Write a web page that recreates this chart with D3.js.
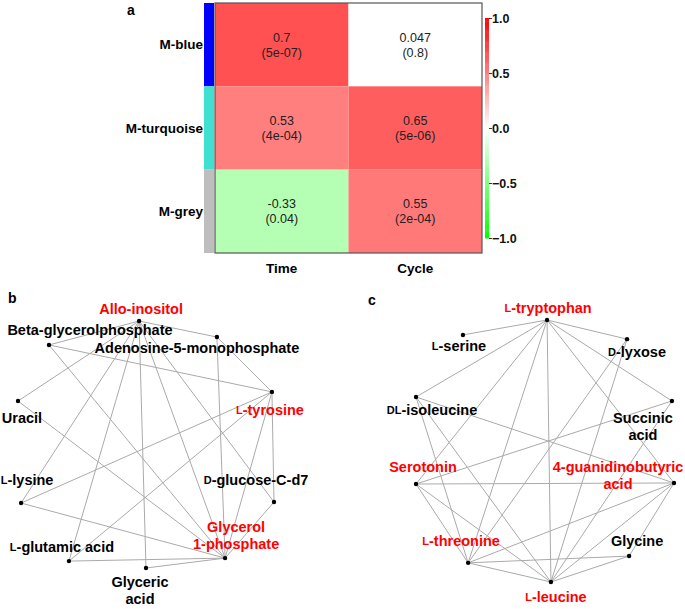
<!DOCTYPE html>
<html><head><meta charset="utf-8">
<script src="https://cdn.jsdelivr.net/npm/d3@7/dist/d3.min.js"></script>
<style>
body{margin:0;background:#fff;}
text{font-family:Arial,"Liberation Sans",Helvetica,sans-serif;}
</style></head>
<body><svg id="chart" width="685" height="609"></svg>
<script>
// ---------- Panel a data ----------
const modules = ["M-blue","M-turquoise","M-grey"];
const moduleColors = ["#0000FF","#40E0D0","#BEBEBE"];
const traits = ["Time","Cycle"];
const corrTime = [0.7, 0.53, -0.33];
const corrCycle = [0.047, 0.65, 0.55];
const pTime = ["5e-07","4e-04","0.04"];
const pCycle = ["0.8","5e-06","2e-04"];
const legendTicks = [1.0, 0.5, 0.0, -0.5, -1.0];

// ---------- Panel b data (layout coordinates, unit square) ----------
const bNames = ["Allo-inositol","Beta-glycerolphosphate","Adenosine-5-monophosphate","L-tyrosine","Uracil","L-lysine","D-glucose-C-d7","L-glutamic acid","Glyceric\nacid","Glycerol\n1-phosphate"];
const bHighlight = [true,false,false,true,false,false,false,false,false,true];
const bLayoutX = [0.473,0.121,0.777,0.992,0.0,0.012,1.0,0.199,0.5,0.809];
const bLayoutY = [0.0,0.097,0.065,0.287,0.324,0.737,0.733,0.972,1.0,0.960];
const bEdges = [[0,1],[0,2],[0,4],[0,5],[0,7],[0,8],[0,9],[0,6],
  [1,3],[1,9],[2,3],[2,9],[3,5],[3,7],[3,6],[3,9],[4,9],[5,9],[7,9],[8,9],[6,9]];

// ---------- Panel c data ----------
const cNames = ["L-tryptophan","L-serine","D-lyxose","DL-isoleucine","Succinic\nacid","Serotonin","4-guanidinobutyric\nacid","L-threonine","Glycine","L-leucine"];
const cHighlight = [true,false,false,false,false,true,true,true,false,true];
const cLayoutX = [0.508,0.182,0.818,0.0,0.992,0.0,1.0,0.202,0.826,0.523];
const cLayoutY = [0.0,0.057,0.073,0.294,0.309,0.626,0.622,0.927,0.901,1.0];
const cEdges = [[0,1],[0,2],[0,4],[0,3],[0,5],[0,7],[0,9],[0,6],
  [2,7],[2,9],[3,6],[3,7],[3,9],[4,5],[4,9],
  [5,6],[5,7],[5,9],[6,7],[6,9],[6,8],[7,8],[7,9],[8,9]];

// ---------- styling / placement (not data) ----------
const bLabelOff = [[2,-12],[41,-15],[-20,11],[-2,18],[4,17],[6,-23],[-18,-22],[-7,-14],[-6,14],[11,-31]];
const cLabelOff = [[1,-12],[-4,11],[10,13],[16,13],[-29,17],[7,-17],[-56,-16],[-7,-22],[8,-15],[5,15]];

const svg = d3.select("#chart");

// ===== Panel a: heatmap =====
const x = d3.scaleBand().domain(traits).range([215,482]);
const y = d3.scaleBand().domain(modules).range([3,253]);
const color = d3.scaleLinear().domain([-1,-0.05,0.05,1]).range(["#00FF00","#FFFFFF","#FFFFFF","#FF0000"]).clamp(true);

const cells = [];
modules.forEach((m,i)=>{
  cells.push({m, t:"Time", v:corrTime[i], p:pTime[i]});
  cells.push({m, t:"Cycle", v:corrCycle[i], p:pCycle[i]});
});
const gA = svg.append("g");
gA.selectAll("rect.cell").data(cells).join("rect")
  .attr("x",d=>x(d.t)).attr("y",d=>y(d.m))
  .attr("width",x.bandwidth()).attr("height",y.bandwidth())
  .attr("fill",d=>color(d.v));
gA.append("rect").attr("x",215).attr("y",3).attr("width",267).attr("height",250)
  .attr("fill","none").attr("stroke","#555").attr("stroke-width",1.2);
gA.selectAll("text.val").data(cells).join("text")
  .attr("x",d=>x(d.t)+x.bandwidth()/2).attr("y",d=>y(d.m)+y.bandwidth()/2-7)
  .attr("text-anchor","middle").attr("dominant-baseline","central")
  .attr("font-size",12.5).attr("fill","#222").text(d=>String(d.v));
gA.selectAll("text.p").data(cells).join("text")
  .attr("x",d=>x(d.t)+x.bandwidth()/2).attr("y",d=>y(d.m)+y.bandwidth()/2+8)
  .attr("text-anchor","middle").attr("dominant-baseline","central")
  .attr("font-size",12.5).attr("fill","#222").text(d=>"("+d.p+")");
// module color bar
gA.selectAll("rect.mod").data(modules).join("rect")
  .attr("x",204).attr("y",d=>y(d)).attr("width",10).attr("height",y.bandwidth())
  .attr("fill",(d,i)=>moduleColors[i]);
gA.selectAll("text.row").data(modules).join("text")
  .attr("x",203).attr("y",d=>y(d)+y.bandwidth()/2)
  .attr("text-anchor","end").attr("dominant-baseline","central")
  .attr("font-size",13.5).attr("font-weight","bold").text(d=>d);
gA.selectAll("text.col").data(traits).join("text")
  .attr("x",d=>x(d)+x.bandwidth()/2).attr("y",268)
  .attr("text-anchor","middle").attr("dominant-baseline","central")
  .attr("font-size",13.5).attr("font-weight","bold").text(d=>d);
svg.append("text").attr("x",127).attr("y",10).attr("dominant-baseline","central")
  .attr("font-size",14).attr("font-weight","bold").text("a");

// legend colorbar
const ly = d3.scaleLinear().domain([-1,1]).range([238,18]);
const legColor = d3.scaleLinear().domain([-1,0,1]).range(["#00FF00","#FFFFFF","#FF0000"]);
const steps = d3.range(-1,1,0.01);
gA.selectAll("rect.leg").data(steps).join("rect")
  .attr("x",485).attr("width",4)
  .attr("y",d=>ly(d+0.01)).attr("height",d=>ly(d)-ly(d+0.01)+0.5)
  .attr("fill",d=>legColor(d+0.005));
const legAxis = d3.axisRight(ly).tickValues(legendTicks).tickSize(3).tickFormat(d3.format(".1f"));
const ag = gA.append("g").attr("transform","translate(489,0)").call(legAxis);
ag.select(".domain").remove();
ag.selectAll("line").attr("stroke","#333");
ag.selectAll("text").attr("x",3).attr("font-size",12.5).attr("font-weight","bold")
  .attr("font-family","Arial, Liberation Sans, sans-serif").attr("fill","#111");

// ===== Networks =====
function drawNet(names, hi, lx, ly2, edges, off, xr, yr) {
  const sx = d3.scaleLinear().domain([0,1]).range(xr);
  const sy = d3.scaleLinear().domain([0,1]).range(yr);
  const nodes = names.map((n,i)=>({n, hi:hi[i], x:sx(lx[i]), y:sy(ly2[i]), off:off[i]}));
  const g = svg.append("g");
  g.selectAll("line").data(edges).join("line")
    .attr("x1",d=>nodes[d[0]].x).attr("y1",d=>nodes[d[0]].y)
    .attr("x2",d=>nodes[d[1]].x).attr("y2",d=>nodes[d[1]].y)
    .attr("stroke","#aaa").attr("stroke-width",1);
  g.selectAll("circle").data(nodes).join("circle")
    .attr("cx",d=>d.x).attr("cy",d=>d.y).attr("r",2.2).attr("fill","#000");
  nodes.forEach(d=>{
    const lines = d.n.split("\n");
    lines.forEach((ln,k)=>{
      const t = g.append("text")
        .attr("x",d.x+d.off[0]).attr("y",d.y+d.off[1]+k*17)
        .attr("text-anchor","middle").attr("dominant-baseline","central")
        .attr("font-size",14.5).attr("font-weight","bold")
        .attr("fill",d.hi?"#FF0000":"#000");
      const m = k===0 ? ln.match(/^(DL|L|D)(-.*)$/) : null;
      if (m) {
        t.append("tspan").attr("font-size",11).text(m[1]);
        t.append("tspan").text(m[2]);
      } else t.text(ln);
    });
  });
}
drawNet(bNames,bHighlight,bLayoutX,bLayoutY,bEdges,bLabelOff,[18,274],[321,568]);
drawNet(cNames,cHighlight,cLayoutX,cLayoutY,cEdges,cLabelOff,[416,674],[320,582]);
svg.append("text").attr("x",8).attr("y",298).attr("dominant-baseline","central")
  .attr("font-size",14).attr("font-weight","bold").text("b");
svg.append("text").attr("x",368).attr("y",300).attr("dominant-baseline","central")
  .attr("font-size",14).attr("font-weight","bold").text("c");
</script></body></html>
